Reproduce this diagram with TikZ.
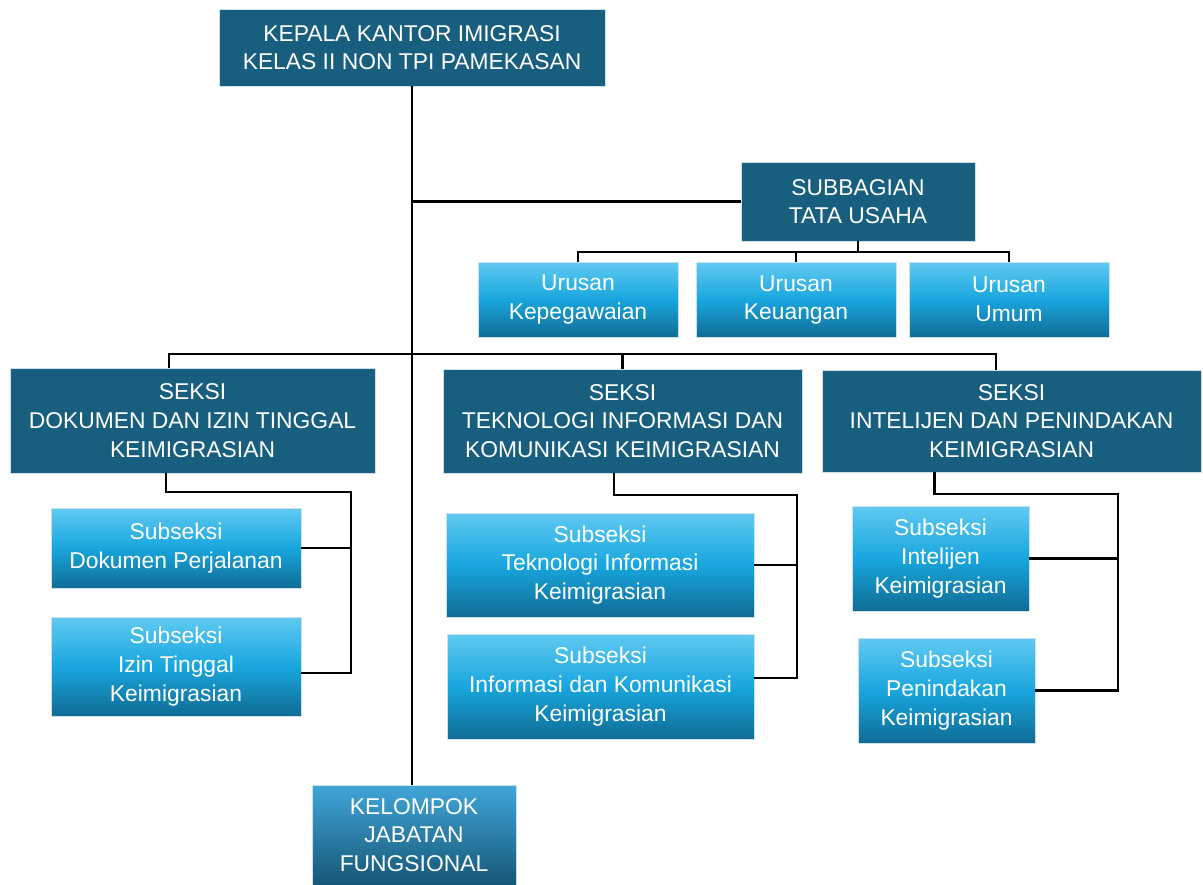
\documentclass[tikz,border=0pt]{standalone}
\usepackage{fontspec}
\setmainfont{Liberation Sans}
\usetikzlibrary{positioning}

\definecolor{darkbox}{RGB}{24,94,127}
\definecolor{boxedge}{RGB}{205,225,235}
\definecolor{lighttop}{RGB}{96,202,242}
\definecolor{lightmid}{RGB}{24,166,222}
\definecolor{lightbot}{RGB}{16,108,148}
\definecolor{grouptop}{RGB}{64,166,216}
\definecolor{groupbot}{RGB}{22,86,118}

\begin{document}
\begin{tikzpicture}[
	x=0.02cm, y=-0.02cm,
	head/.style={rectangle, draw=boxedge, line width=0.5pt, fill=darkbox, text=white, align=center, inner sep=0pt, font=\fontsize{13}{16.3}\selectfont},
	unit/.style={rectangle, draw=boxedge, line width=0.5pt, top color=lighttop, bottom color=lightbot, middle color=lightmid, text=white, align=center, inner sep=0pt, font=\fontsize{13}{16.3}\selectfont},
	group/.style={rectangle, draw=boxedge, line width=0.5pt, top color=grouptop, bottom color=groupbot, text=white, align=center, inner sep=0pt, font=\fontsize{13}{16.3}\selectfont},
	wire/.style={line width=1.6pt, black}
]
	\useasboundingbox (0,0) rectangle (1203,885);

	% Head of office
	\node[head, minimum width=7.72cm, minimum height=1.54cm] (kepala) at (412,47.5) {KEPALA KANTOR IMIGRASI\\KELAS II NON TPI PAMEKASAN};

	% Administration
	\node[head, minimum width=4.68cm, minimum height=1.58cm] (tu) at (858,201.5) {SUBBAGIAN\\TATA USAHA};
	\node[unit, minimum width=4cm, minimum height=1.5cm] (kepeg) at (578,299.5) {Urusan\\Kepegawaian};
	\node[unit, minimum width=4cm, minimum height=1.5cm] (keu) at (796,300) {Urusan\\Keuangan};
	\node[unit, minimum width=4cm, minimum height=1.5cm] (umum) at (1009,299.5) {Urusan\\Umum};

	% Sections
	\node[head, minimum width=7.3cm, minimum height=2.1cm] (dok) at (192.5,420.5) {SEKSI\\DOKUMEN DAN IZIN TINGGAL\\KEIMIGRASIAN};
	\node[head, minimum width=7.18cm, minimum height=2.08cm] (tik) at (622.5,421) {SEKSI\\TEKNOLOGI INFORMASI DAN\\KOMUNIKASI KEIMIGRASIAN};
	\node[head, minimum width=7.58cm, minimum height=2.04cm] (intel) at (1011.5,421) {SEKSI\\INTELIJEN DAN PENINDAKAN\\KEIMIGRASIAN};

	% Subsections
	\node[unit, minimum width=5cm, minimum height=1.6cm] (dokjal) at (176,548) {Subseksi\\Dokumen Perjalanan};
	\node[unit, minimum width=5cm, minimum height=1.98cm] (izin) at (176,666.5) {Subseksi\\Izin Tinggal\\Keimigrasian};
	\node[unit, minimum width=6.16cm, minimum height=2.08cm] (ti) at (600,565) {Subseksi\\Teknologi Informasi\\Keimigrasian};
	\node[unit, minimum width=6.14cm, minimum height=2.1cm] (infokom) at (600.5,686.5) {Subseksi\\Informasi dan Komunikasi\\Keimigrasian};
	\node[unit, minimum width=3.54cm, minimum height=2.1cm] (sintel) at (940.5,558.5) {Subseksi\\Intelijen\\Keimigrasian};
	\node[unit, minimum width=3.54cm, minimum height=2.1cm] (penindak) at (946.5,690.5) {Subseksi\\Penindakan\\Keimigrasian};

	% Functional group
	\node[group, minimum width=4.08cm, minimum height=2cm] (kjf) at (414,835) {KELOMPOK\\JABATAN\\FUNGSIONAL};

	% Bus points
	\coordinate (tubus) at (858,252);
	\coordinate (sbus) at (412,354);
	\coordinate (dv) at (351,492);
	\coordinate (tv) at (797,495);
	\coordinate (iv) at (1118,494);

	% Connectors
	\draw[wire] (kepala.south) -- (kepala.south |- kjf.north);
	\draw[wire] (kepala.south |- tu.west) -- (tu.west);
	\draw[wire] (tu.south) -- (tu.south |- tubus);
	\draw[wire] (kepeg.north) |- (tubus) -| (umum.north);
	\draw[wire] (keu.north) -- (keu.north |- tubus);
	\draw[wire] ([xshift=-0.47cm]dok.north) |- (sbus) -| ([xshift=-0.31cm]intel.north);
	\draw[wire] (tik.north) -- (tik.north |- sbus);

	\draw[wire] ([xshift=-0.53cm]dok.south) |- (dv) |- ([yshift=-0.13cm]izin.east);
	\draw[wire] (dokjal.east) -- (dokjal.east -| dv);
	\draw[wire] ([xshift=-0.17cm]tik.south) |- (tv) |- ([yshift=0.17cm]infokom.east);
	\draw[wire] (ti.east) -- (ti.east -| tv);
	\draw[wire] ([xshift=-1.54cm]intel.south) |- (iv) |- (penindak.east);
	\draw[wire] (sintel.east) -- (sintel.east -| iv);
\end{tikzpicture}
\end{document}
